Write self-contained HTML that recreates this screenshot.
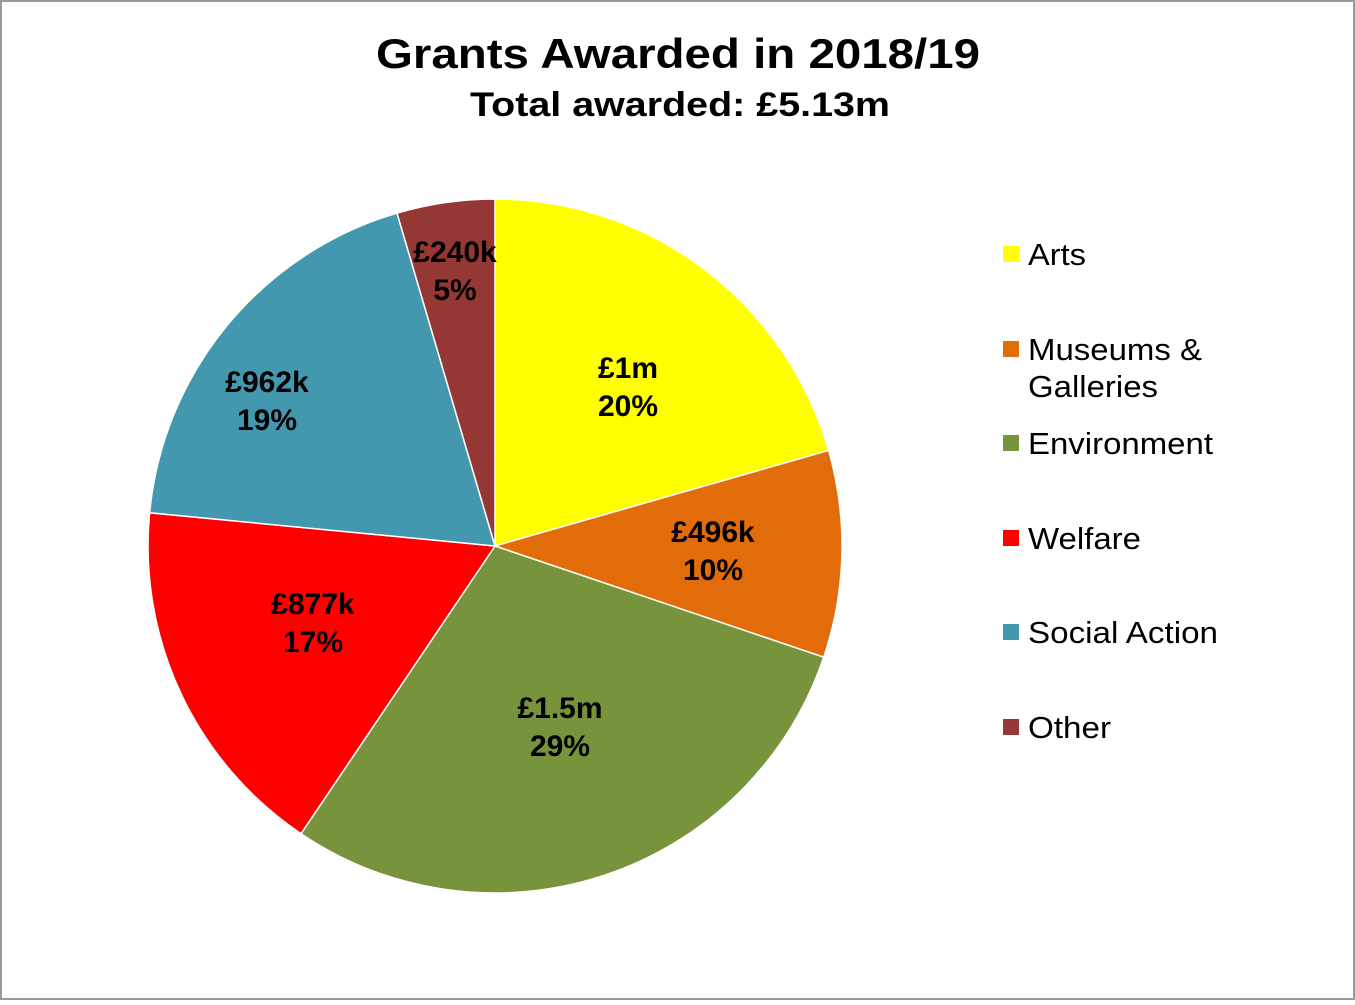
<!DOCTYPE html>
<html><head><meta charset="utf-8"><style>
html,body{margin:0;padding:0;background:#fff}
</style></head><body>
<svg width="1355" height="1000" xmlns="http://www.w3.org/2000/svg" font-family="Liberation Sans, Arial, sans-serif">
<rect x="1" y="1" width="1353" height="998" fill="#fff" stroke="#9a9a9a" stroke-width="2"/>
<text x="376" y="68" font-size="42" font-weight="bold" textLength="604" lengthAdjust="spacingAndGlyphs">Grants Awarded  in 2018/19</text>
<text x="470" y="116" font-size="34" font-weight="bold" textLength="420" lengthAdjust="spacingAndGlyphs">Total awarded: £5.13m</text>
<g stroke="#fff" stroke-width="1.5">
<path d="M495,546 L495,199 A347,347 0 0 1 828.6,450.4 Z" fill="#FFFF00"/>
<path d="M495,546 L828.6,450.4 A347,347 0 0 1 823.7,657.2 Z" fill="#E36C0A"/>
<path d="M495,546 L823.7,657.2 A347,347 0 0 1 301,833.7 Z" fill="#77933C"/>
<path d="M495,546 L301,833.7 A347,347 0 0 1 149.6,512.8 Z" fill="#FF0000"/>
<path d="M495,546 L149.6,512.8 A347,347 0 0 1 397,213.1 Z" fill="#4397AE"/>
<path d="M495,546 L397,213.1 A347,347 0 0 1 495,199 Z" fill="#953735"/>
</g>
<g font-size="30" font-weight="bold" text-anchor="middle" fill="#000">
<text x="628" y="378">£1m</text><text x="628" y="416">20%</text>
<text x="713" y="542">£496k</text><text x="713" y="580">10%</text>
<text x="560" y="718">£1.5m</text><text x="560" y="756">29%</text>
<text x="313" y="614">£877k</text><text x="313" y="652">17%</text>
<text x="267" y="392">£962k</text><text x="267" y="430">19%</text>
<text x="455" y="262">£240k</text><text x="455" y="300">5%</text>
</g>
<g font-size="31" fill="#000">
<rect x="1003" y="246" width="16" height="16" fill="#FFFF00"/><text x="1028" y="265" textLength="58" lengthAdjust="spacingAndGlyphs">Arts</text>
<rect x="1003" y="341" width="16" height="16" fill="#E36C0A"/><text x="1028" y="360" textLength="174" lengthAdjust="spacingAndGlyphs">Museums &amp;</text><text x="1028" y="397" textLength="130" lengthAdjust="spacingAndGlyphs">Galleries</text>
<rect x="1003" y="435" width="16" height="16" fill="#77933C"/><text x="1028" y="454" textLength="185" lengthAdjust="spacingAndGlyphs">Environment</text>
<rect x="1003" y="530" width="16" height="16" fill="#FF0000"/><text x="1028" y="549" textLength="113" lengthAdjust="spacingAndGlyphs">Welfare</text>
<rect x="1003" y="624" width="16" height="16" fill="#4397AE"/><text x="1028" y="643" textLength="190" lengthAdjust="spacingAndGlyphs">Social Action</text>
<rect x="1003" y="719" width="16" height="16" fill="#953735"/><text x="1028" y="738" textLength="83" lengthAdjust="spacingAndGlyphs">Other</text>
</g>
</svg>
</body></html>
